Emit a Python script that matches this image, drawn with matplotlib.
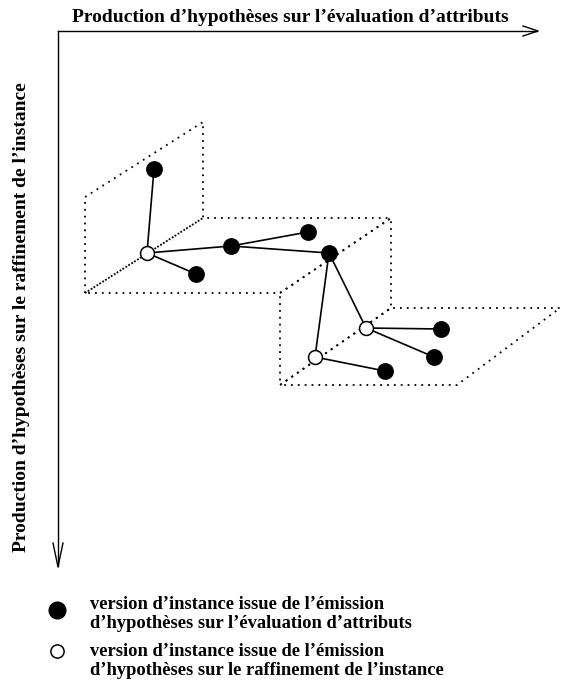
import matplotlib.pyplot as plt

# pixel coordinates of the diagram (y grows downward)
node_x = [154, 147, 196, 231, 308, 329, 366, 441, 434, 315, 385]
node_y = [169, 253, 274, 246, 232, 253, 328, 329, 357, 357, 371]
node_filled = [True, False, True, True, True, True, False, True, True, False, True]
edges = [(1, 0), (1, 2), (1, 3), (3, 4), (3, 5), (5, 6), (5, 9), (6, 7), (6, 8), (9, 10)]

planes_x = [
    [85, 85, 203, 203],
    [85, 203, 391, 280],
    [280, 391, 391, 280],
    [280, 391, 560, 457],
]
planes_y = [
    [293, 197, 122, 218],
    [293, 218, 218, 293],
    [293, 218, 308, 385],
    [385, 308, 308, 385],
]

x_title = "Production d’hypothèses sur l’évaluation d’attributs"
y_title = "Production d’hypothèses sur le raffinement de l’instance"
legend_labels = [
    "version d’instance issue de l’émission\nd’hypothèses sur l’évaluation d’attributs",
    "version d’instance issue de l’émission\nd’hypothèses sur le raffinement de l’instance",
]

plt.rcParams['font.family'] = ['Liberation Serif', 'DejaVu Serif']

fig = plt.figure(figsize=(5.7, 6.87), dpi=100)
ax = fig.add_axes([0, 0, 1, 1])
ax.set_xlim(0, 570)
ax.set_ylim(687, 0)
ax.axis('off')

# dotted planes
for px, py in zip(planes_x, planes_y):
    ax.plot(px + [px[0]], py + [py[0]], color='black', lw=1.3,
            linestyle=(0, (1, 2.8)), zorder=1)

# edges
for a, b in edges:
    ax.plot([node_x[a], node_x[b]], [node_y[a], node_y[b]], color='black', lw=1.2, zorder=2)

# nodes
for x, y, f in zip(node_x, node_y, node_filled):
    ax.plot(x, y, 'o', ms=11 if f else 10, mfc='black' if f else 'white',
            mec='black', mew=1.1, zorder=3)

# axes arrows
ax.plot([58, 537], [31, 31], color='black', lw=1)
ax.plot([523, 538, 523], [26, 31, 36], color='black', lw=1)
ax.plot([58, 58], [31, 566], color='black', lw=1)
ax.plot([53, 58, 63], [543, 567, 543], color='black', lw=1)

ax.text(290, 22, x_title, ha='center', va='baseline', fontsize=14, fontweight='bold')
ax.text(22, 317, y_title, ha='center', va='center', rotation=90, fontsize=14, fontweight='bold')

# legend
ax.plot(57, 610, 'o', ms=12, mfc='black', mec='black', zorder=3)
ax.plot(57, 651, 'o', ms=9.5, mfc='white', mec='black', mew=1.1, zorder=3)
ax.text(90, 614, legend_labels[0], ha='left', va='center', fontsize=13.3,
        fontweight='bold', linespacing=1.08)
ax.text(90, 661, legend_labels[1], ha='left', va='center', fontsize=13.3,
        fontweight='bold', linespacing=1.08)

fig.savefig('out.png', dpi=100)
